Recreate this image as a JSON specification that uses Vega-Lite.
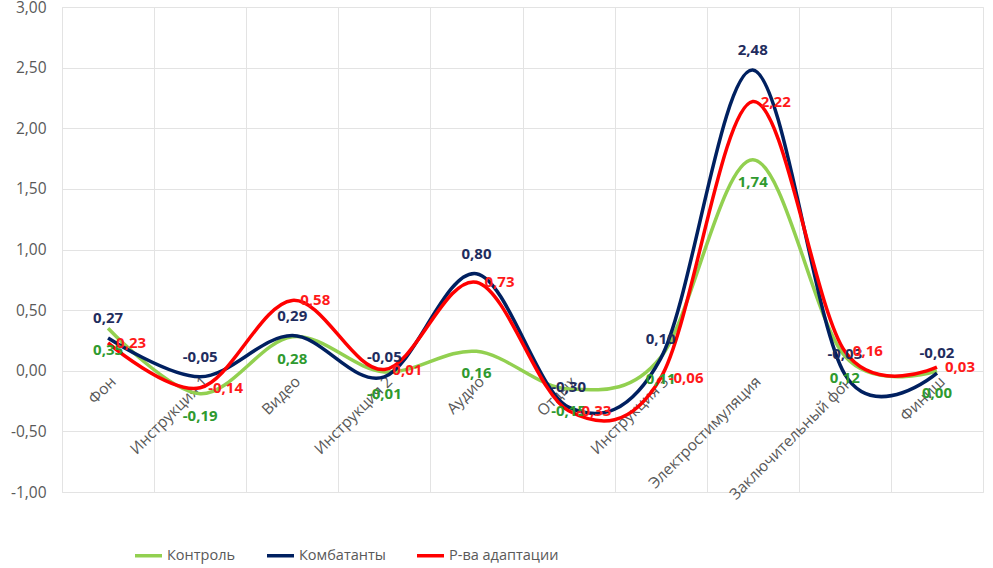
{
  "$schema": "https://vega.github.io/schema/vega-lite/v6.json",
  "width": 921,
  "height": 485,
  "autosize": "none",
  "padding": {"left": 62, "top": 7, "right": 10, "bottom": 76},
  "config": {
    "locale": {"number": {"decimal": ",", "thousands": " ", "grouping": [3], "currency": ["", ""], "minus": "-"}},
    "view": {"stroke": "#e3e3e3"},
    "font": "Open Sans"
  },
  "data": {"values": [
    {"stage": "Фон", "group": "Контроль", "value": 0.35},
    {"stage": "Инструкция 1", "group": "Контроль", "value": -0.19},
    {"stage": "Видео", "group": "Контроль", "value": 0.28},
    {"stage": "Инструкция 2", "group": "Контроль", "value": -0.01},
    {"stage": "Аудио", "group": "Контроль", "value": 0.16},
    {"stage": "Отдых", "group": "Контроль", "value": -0.15},
    {"stage": "Инструкция 3", "group": "Контроль", "value": 0.11},
    {"stage": "Электростимуляция", "group": "Контроль", "value": 1.74},
    {"stage": "Заключительный фон", "group": "Контроль", "value": 0.12},
    {"stage": "Финиш", "group": "Контроль", "value": 0.0},
    {"stage": "Фон", "group": "Комбатанты", "value": 0.27},
    {"stage": "Инструкция 1", "group": "Комбатанты", "value": -0.05},
    {"stage": "Видео", "group": "Комбатанты", "value": 0.29},
    {"stage": "Инструкция 2", "group": "Комбатанты", "value": -0.05},
    {"stage": "Аудио", "group": "Комбатанты", "value": 0.8},
    {"stage": "Отдых", "group": "Комбатанты", "value": -0.3},
    {"stage": "Инструкция 3", "group": "Комбатанты", "value": 0.1},
    {"stage": "Электростимуляция", "group": "Комбатанты", "value": 2.48},
    {"stage": "Заключительный фон", "group": "Комбатанты", "value": -0.03},
    {"stage": "Финиш", "group": "Комбатанты", "value": -0.02},
    {"stage": "Фон", "group": "Р-ва адаптации", "value": 0.23},
    {"stage": "Инструкция 1", "group": "Р-ва адаптации", "value": -0.14},
    {"stage": "Видео", "group": "Р-ва адаптации", "value": 0.58},
    {"stage": "Инструкция 2", "group": "Р-ва адаптации", "value": 0.01},
    {"stage": "Аудио", "group": "Р-ва адаптации", "value": 0.73},
    {"stage": "Отдых", "group": "Р-ва адаптации", "value": -0.33},
    {"stage": "Инструкция 3", "group": "Р-ва адаптации", "value": -0.06},
    {"stage": "Электростимуляция", "group": "Р-ва адаптации", "value": 2.22},
    {"stage": "Заключительный фон", "group": "Р-ва адаптации", "value": 0.16},
    {"stage": "Финиш", "group": "Р-ва адаптации", "value": 0.03}
  ]},
  "encoding": {
    "x": {
      "field": "stage", "type": "nominal", "axis": null,
      "scale": {"type": "point", "padding": 0.5, "domain": ["Фон", "Инструкция 1", "Видео", "Инструкция 2", "Аудио", "Отдых", "Инструкция 3", "Электростимуляция", "Заключительный фон", "Финиш"]}
    },
    "y": {
      "field": "value", "type": "quantitative",
      "scale": {"domain": [-1, 3], "nice": false, "zero": false}
    }
  },
  "layer": [
    {
      "mark": {"type": "line", "interpolate": "cardinal", "tension": 0, "strokeWidth": 3.5},
      "encoding": {
        "x": {
          "field": "stage", "type": "nominal",
          "axis": {"orient": "bottom", "title": null, "grid": true, "gridColor": "#e3e3e3", "labels": false, "ticks": false, "domain": false, "tickOffset": -46.05}
        },
        "y": {
          "field": "value", "type": "quantitative",
          "axis": {"title": null, "values": [-1, -0.5, 0, 0.5, 1, 1.5, 2, 2.5, 3], "format": ".2f", "grid": true, "gridColor": "#e3e3e3", "domain": false, "ticks": false, "labelColor": "#595959", "labelFontSize": 15.5, "labelPadding": 16}
        },
        "color": {
          "field": "group", "type": "nominal",
          "scale": {"domain": ["Контроль", "Комбатанты", "Р-ва адаптации"], "range": ["#92d050", "#002060", "#ff0000"]},
          "legend": {"title": null, "orient": "none", "legendX": 71, "legendY": 533, "direction": "horizontal", "symbolType": "stroke", "symbolSize": 729, "symbolStrokeWidth": 3.5, "labelFontSize": 14.5, "labelColor": "#595959", "columnPadding": 24, "labelOffset": 3}
        }
      }
    },
    {
      "transform": [{"filter": "datum.group === 'Комбатанты'"}],
      "mark": {"type": "text", "dy": -20, "fontSize": 15, "fontWeight": "bold", "color": "#1f2d5e"},
      "encoding": {
        "x": {
          "field": "stage", "type": "nominal",
          "axis": {"orient": "bottom", "title": null, "grid": false, "ticks": false, "domain": false, "offset": -121.25, "labelAngle": -45, "labelColor": "#595959", "labelFontSize": 15.5, "labelPadding": 3}
        },
        "text": {"field": "value", "type": "quantitative", "format": ".2f"}
      }
    },
    {
      "transform": [{"filter": "datum.group === 'Контроль'"}],
      "mark": {"type": "text", "dy": 22, "fontSize": 15, "fontWeight": "bold", "color": "#2f9a2f"},
      "encoding": {
        "text": {"field": "value", "type": "quantitative", "format": ".2f"}
      }
    },
    {
      "transform": [{"filter": "datum.group === 'Р-ва адаптации'"}],
      "mark": {"type": "text", "dx": 8, "align": "left", "fontSize": 15, "fontWeight": "bold", "color": "#ff1a1a"},
      "encoding": {
        "text": {"field": "value", "type": "quantitative", "format": ".2f"}
      }
    }
  ],
  "resolve": {"axis": {"x": "independent"}}
}
